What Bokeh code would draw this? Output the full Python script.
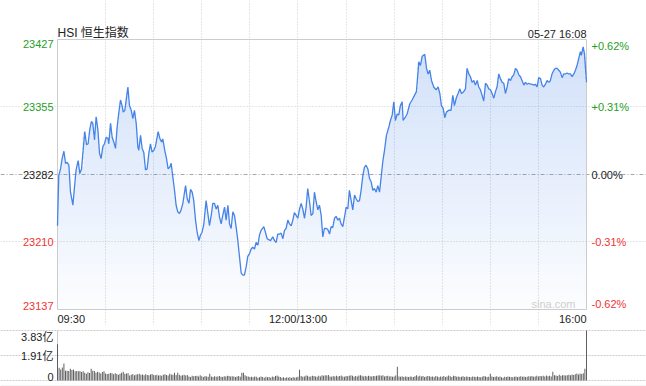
import numpy as np
from bokeh.plotting import figure
from bokeh.models import Range1d, FixedTicker, Span, LabelSet, Label, ColumnDataSource, Grid
from bokeh.layouts import column
from bokeh.core.properties import value
from bokeh.embed import file_html
from bokeh.resources import INLINE

# ---------------- data ----------------
title_text = "HSI 恒生指数"
stamp_text = "05-27 16:08"
watermark = "sina.com"
prev_close = 23282
price_ticks = [23427, 23355, 23282, 23210, 23137]
price_tick_labels = ["23427", "23355", "23282", "23210", "23137"]
pct_tick_labels = ["+0.62%", "+0.31%", "0.00%", "-0.31%", "-0.62%"]
tick_colors = ["#1fa01f", "#1fa01f", "#222222", "#f03434", "#f03434"]
time_ticks = [0, 150, 330]
time_labels = ["09:30", "12:00/13:00", "16:00"]
grid_minutes = [30, 60, 90, 120, 150, 180, 210, 240, 270, 300]
vol_ticks = [3.83, 1.91, 0]
vol_labels = ["3.83亿", "1.91亿", "0"]

minutes = [0, 0.8, 1.9, 2.9, 4.0, 5.0, 6.0, 7.1, 8.1, 9.6, 10.8, 11.6, 12.9, 13.9, 15.0, 17.0, 18.1, 19.1,
           20.2, 21.2, 22.0, 23.1, 24.1, 25.2, 26.2, 27.2, 28.3, 29.3, 30.4, 31.4, 32.0, 33.1, 34.1, 35.1,
           36.2, 37.2, 38.3, 39.3, 40.3, 41.0, 42.0, 43.0, 43.9, 44.9, 46.0, 47.0, 48.0, 49.1, 50.1, 50.7,
           51.8, 52.8, 53.8, 54.9, 55.9, 57.0, 58.0, 59.0, 60.1, 61.1, 62.8, 63.8, 64.9, 65.7, 66.9, 68.0,
           69.0, 70.1, 70.9, 71.9, 73.0, 74.0, 75.0, 76.1, 77.1, 78.2,
           79.9, 80.9, 82.0, 83.0, 84.0, 85.0, 86.1, 87.1, 88.2, 89.2, 90.2, 91.3, 92.7, 93.8, 94.8, 95.9,
           96.9, 97.9, 99.0, 100.0, 101.1, 102.1, 103.1, 104.2, 105.2, 106.3, 107.3, 108.3, 109.4, 110.4,
           111.4, 112.5, 113.5, 114.6, 115.6, 116.6, 117.7, 118.7, 119.8, 120.8, 121.8, 122.9, 123.9, 125.0,
           126.0, 127.0, 128.7, 129.7, 130.8, 131.8, 132.9, 134.3, 135.4, 136.4, 137.4, 138.5, 139.5, 140.6,
           141.6, 142.6, 143.7, 144.7, 145.8, 146.8, 147.8, 148.9, 149.9, 151.0, 152.0, 153.0, 154.1, 155.1,
           156.1, 157.2, 158.2, 159.3, 160.3, 161.3, 162.4, 163.4, 164.5, 165.5, 166.5, 167.6, 168.6, 169.7,
           170.7, 171.7, 172.8, 173.8, 174.9, 175.9, 176.9, 178.0, 179.0, 180.1, 181.1, 182.1, 183.2, 184.2,
           185.3, 186.3, 187.3, 188.4, 189.4, 190.5, 191.5, 192.5, 193.6, 194.6, 195.7, 196.7, 197.7, 198.8,
           199.8, 200.9, 201.9, 203.0, 204.0,
           205.2, 206.7, 207.7, 208.8, 209.8, 210.8, 211.9, 212.9, 213.9, 215.0, 215.6, 217.1, 218.1, 219.8,
           221.2, 222.7, 223.9, 225.4, 226.4, 227.5, 229.1, 230.2, 231.2, 232.2, 233.3, 234.7, 236.2, 237.4,
           238.5, 239.5, 240.6, 241.6, 242.6, 244.1, 245.5, 246.6, 247.6, 248.9, 249.9, 251.0, 252.0, 253.4,
           254.5, 255.5, 256.6, 257.6, 258.6, 259.7, 260.7, 261.8, 262.8, 263.8, 264.9, 265.9, 267.0, 268.0,
           269.0, 270.1, 271.1, 272.2, 273.2, 274.2, 275.3, 276.3, 277.4, 278.4, 279.4, 280.5, 281.5, 282.6,
           283.6, 284.6, 285.7, 286.7, 287.8, 288.8, 289.8, 290.9, 291.9, 293.0, 294.0, 295.0, 296.1, 297.1,
           298.1, 299.2, 300.2, 301.3, 302.3, 303.3, 304.4, 305.4, 306.5, 307.5, 308.5, 309.6, 310.6, 311.7,
           312.7, 313.7, 314.8, 315.8, 316.9, 317.9, 318.9, 320.0, 321.0, 322.1, 323.1, 324.1, 325.2, 326.2,
           326.8, 327.9, 328.7, 330.0]

prices = [23227, 23281, 23288, 23299, 23307, 23294, 23295, 23292, 23263, 23249, 23272, 23287, 23297, 23283,
          23288, 23328, 23314, 23315, 23331, 23339, 23337, 23319, 23344, 23330, 23305, 23299, 23312, 23315,
          23322, 23321, 23315, 23337, 23322, 23317, 23310, 23333, 23349, 23362, 23356, 23349, 23351, 23364,
          23376, 23356, 23351, 23342, 23351, 23337, 23312, 23308, 23324, 23310, 23306, 23287, 23288, 23305,
          23315, 23306, 23308, 23312, 23328, 23321, 23317, 23320, 23308, 23299, 23288, 23290, 23294, 23280,
          23265, 23249, 23242, 23240, 23244, 23251,
          23270, 23256, 23251, 23266, 23263, 23254, 23233, 23220, 23211, 23217, 23220, 23229, 23254, 23240,
          23227, 23238, 23251, 23251, 23245, 23249, 23236, 23229, 23238, 23247, 23233, 23249, 23229, 23224,
          23242, 23238, 23226, 23211, 23194, 23176, 23174, 23174, 23183, 23194, 23197, 23202, 23204, 23202,
          23209, 23206, 23217, 23222, 23226, 23220, 23213, 23212, 23211, 23215, 23211, 23209, 23218, 23218,
          23219, 23213, 23222, 23224, 23233, 23229, 23227, 23233, 23241, 23238, 23235, 23245, 23251, 23245,
          23235, 23247, 23267, 23253, 23238, 23240, 23263, 23253, 23244, 23249, 23238, 23215, 23224, 23224,
          23223, 23218, 23226, 23225, 23235, 23237, 23233, 23235, 23229, 23226, 23236, 23247, 23245, 23265,
          23254, 23244, 23260, 23256, 23253, 23254, 23265, 23281, 23290, 23292, 23288, 23278, 23274, 23265,
          23267, 23263, 23270, 23263, 23279, 23297, 23308,
          23324, 23333, 23340, 23346, 23360, 23340, 23347, 23346, 23356, 23360, 23340, 23344, 23347, 23358,
          23362, 23367, 23371, 23403, 23399, 23409, 23411, 23396, 23390, 23394, 23383, 23376, 23373, 23376,
          23369, 23356, 23353, 23343, 23349, 23351, 23351, 23367, 23356, 23365, 23369, 23374, 23369, 23371,
          23374, 23396, 23390, 23387, 23381, 23383, 23378, 23383, 23376, 23373, 23367, 23361, 23380, 23378,
          23374, 23373, 23369, 23364, 23371, 23376, 23390, 23385, 23381, 23380, 23369, 23376, 23385, 23383,
          23387, 23389, 23396, 23394, 23389, 23387, 23383, 23378, 23381, 23379, 23380, 23379, 23379, 23378,
          23379, 23376, 23386, 23385, 23378, 23376, 23379, 23383, 23381, 23383, 23390, 23394, 23396, 23396,
          23394, 23392, 23386, 23390, 23390, 23391, 23390, 23390, 23387, 23390, 23394, 23399, 23407, 23414,
          23410, 23419, 23412, 23381]

volumes = [2.77, 0.98, 0.85, 1.00, 1.31, 0.75, 0.75, 0.72, 0.90, 0.80,
           0.85, 0.70, 0.72, 0.70, 0.72, 0.66, 0.70, 0.60, 0.52, 0.64,
           0.58, 0.90, 0.75, 0.72, 0.59, 0.67, 0.62, 0.54, 0.66, 0.70,
           0.54, 0.50, 0.52, 0.58, 0.55, 0.48, 0.56, 0.50, 0.44, 0.52,
           0.60, 0.67, 0.52, 0.54, 0.56, 0.38, 0.44, 0.50, 0.40, 0.46,
           0.48, 0.51, 0.44, 0.46, 0.40, 0.48, 0.42, 0.40, 0.46, 0.50,
           0.42, 0.40, 0.44, 0.38, 0.40, 0.36, 0.44, 0.48, 0.42, 0.38,
           0.52, 0.46, 0.44, 0.59, 0.42, 0.59, 0.44, 0.36, 0.40, 0.44,
           0.38, 0.42, 0.30, 0.26, 0.36, 0.32, 0.34, 0.36, 0.30, 0.40,
           0.32, 0.26, 0.34, 0.30, 0.28, 0.51, 0.30, 0.26, 0.32, 0.28,
           0.30, 0.34, 0.28, 0.26, 0.32, 0.30, 0.36, 0.34, 0.30, 0.32,
           0.30, 0.26, 0.30, 0.34, 0.28, 0.59, 0.59, 0.40, 0.32, 0.30,
           0.26, 0.28, 0.24, 0.30, 0.28, 0.22, 0.24, 0.30, 0.26, 0.22,
           0.28, 0.24, 0.26, 0.22, 0.30, 0.26, 0.34, 0.38, 0.30, 0.26,
           0.22, 0.24, 0.20, 0.24, 0.22, 0.24, 0.20, 0.26, 0.22, 0.24,
           0.28, 0.82, 0.34, 0.28, 0.30, 0.38, 0.36, 0.28, 0.30, 0.36,
           0.34, 0.30, 0.28, 0.36, 0.30, 0.41, 0.36, 0.41, 0.38, 0.42,
           0.30, 0.28, 0.34, 0.30, 0.36, 0.30, 0.34, 0.38, 0.30, 0.28,
           0.34, 0.32, 0.36, 0.41, 0.36, 0.28, 0.34, 0.30, 0.38, 0.41,
           0.36, 0.30, 0.34, 0.30, 0.36, 0.32, 0.30, 0.34, 0.32, 0.36,
           0.38, 0.40, 0.36, 0.41, 0.30, 0.34, 0.36, 0.30, 0.33, 0.28,
           0.30, 0.38, 1.05, 0.30, 0.28, 0.32, 0.26, 0.30, 0.28, 0.26,
           0.30, 0.28, 0.26, 0.32, 0.41, 0.30, 0.36, 0.30, 0.34, 0.26,
           0.30, 0.34, 0.32, 0.28, 0.30, 0.26, 0.34, 0.30, 0.24, 0.30,
           0.28, 0.34, 0.26, 0.30, 0.38, 0.32, 0.26, 0.36, 0.34, 0.28,
           0.30, 0.26, 0.28, 0.32, 0.26, 0.30, 0.28, 0.26, 0.24, 0.30,
           0.28, 0.26, 0.30, 0.26, 0.24, 0.28, 0.34, 0.30, 0.26, 0.28,
           0.51, 0.30, 0.26, 0.28, 0.33, 0.26, 0.30, 0.24, 0.22, 0.28,
           0.26, 0.30, 0.28, 0.26, 0.24, 0.28, 0.30, 0.26, 0.28, 0.32,
           0.28, 0.30, 0.26, 0.28, 0.32, 0.30, 0.34, 0.28, 0.30, 0.36,
           0.30, 0.34, 0.33, 0.36, 0.30, 0.38, 0.32, 0.36, 0.30, 0.67,
           0.41, 0.38, 0.35, 0.44, 0.36, 0.41, 0.40, 0.38, 0.40, 0.44,
           0.40, 0.46, 0.42, 0.48, 0.54, 0.46, 0.54, 0.50, 0.56, 0.90,
           3.83]
vol_minutes = list(range(len(volumes)))

# ---------------- layout (pixels) ----------------
FIG_W = 646
H1, H2 = 325, 61
PX_L, PX_R = 57, 586          # plot area left/right in page pixels
PX_T1, PX_B1 = 39, 309        # price area top/bottom (within figure 1)
PX_T2, PX_B2 = 5, 55          # volume area top/bottom (within figure 2)
PX_FOOT = 60.5                # faint bottom rule (within figure 2)

FONT_NAME = "Liberation Sans, Noto Sans CJK SC"
FONT = value(FONT_NAME)
LINE_BLUE = "#4583e8"
GRID = "#cccccc"
TEXT = "#222222"

x_lo, x_hi = time_ticks[0], time_ticks[-1]
y_lo, y_hi = price_ticks[-1], price_ticks[0]
v_lo, v_hi = vol_ticks[-1], vol_ticks[0]

kx = (x_hi - x_lo) / (PX_R - PX_L)
x_range = Range1d(x_lo - PX_L * kx, x_hi + (FIG_W - PX_R) * kx)
ky1 = (y_hi - y_lo) / (PX_B1 - PX_T1)
y_range1 = Range1d(y_lo - (H1 - PX_B1) * ky1, y_hi + PX_T1 * ky1)
ky2 = (v_hi - v_lo) / (PX_B2 - PX_T2)
y_range2 = Range1d(v_lo - (H2 - PX_B2) * ky2, v_hi + PX_T2 * ky2)


def bare_figure(h, yr):
    f = figure(width=FIG_W, height=h, x_range=x_range, y_range=yr, output_backend="svg",
               toolbar_location=None, min_border=0)
    f.xaxis.visible = False
    f.yaxis.visible = False
    f.outline_line_color = None
    f.background_fill_color = "white"
    f.border_fill_color = "white"
    return f


# ---------------- price panel ----------------
p1 = bare_figure(H1, y_range1)
p1.xgrid.ticker = FixedTicker(ticks=grid_minutes)
p1.xgrid.bounds = (y_lo, y_hi)
p1.xgrid.grid_line_color = GRID
p1.xgrid.grid_line_dash = "1 2"
p1.ygrid.ticker = FixedTicker(ticks=[price_ticks[1], price_ticks[3]])
p1.ygrid.bounds = (x_lo, x_hi)
p1.ygrid.grid_line_color = GRID
p1.ygrid.grid_line_dash = "1 2"
p1.add_layout(Grid(dimension=1, ticker=FixedTicker(ticks=[prev_close]), bounds=(x_lo, x_hi),
                   grid_line_color="#a8a8a8", grid_line_dash="4 2 1 2"))

# gradient fill under the line (banded)
t_arr = np.array(minutes, dtype=float)
p_arr = np.array(prices, dtype=float)
n_bands = 54
step = (y_hi - y_lo) / n_bands
for k in range(n_bands):
    lo = y_lo + k * step
    hi = lo + step
    top = np.clip(p_arr, lo, hi)
    frac = ((lo + hi) / 2 - y_lo) / (y_hi - y_lo)
    p1.varea(x=t_arr, y1=np.full_like(top, lo), y2=top, fill_color=LINE_BLUE,
             fill_alpha=0.015 + 0.24 * frac)

p1.quad(left=[x_lo], right=[x_hi], bottom=[y_lo], top=[y_hi], fill_color=None,
        line_color=GRID, line_width=1)
p1.line(t_arr, p_arr, line_color=LINE_BLUE, line_width=1.3)

bases = ["top", "middle", "middle", "middle", "bottom"]
left_src = ColumnDataSource(dict(x=[x_lo] * 5, y=price_ticks, text=price_tick_labels,
                                 color=tick_colors, base=bases))
right_src = ColumnDataSource(dict(x=[x_hi] * 5, y=price_ticks, text=pct_tick_labels,
                                  color=tick_colors, base=bases))
p1.add_layout(LabelSet(x="x", y="y", text="text", source=left_src, x_offset=-4,
                       text_align="right", text_baseline="base", text_color="color",
                       text_font=FONT, text_font_size="11px"))
p1.add_layout(LabelSet(x="x", y="y", text="text", source=right_src, x_offset=5,
                       text_align="left", text_baseline="base", text_color="color",
                       text_font=FONT, text_font_size="11px"))

time_src = ColumnDataSource(dict(x=time_ticks, y=[y_lo] * 3, text=time_labels,
                                 align=["left", "center", "right"]))
p1.add_layout(LabelSet(x="x", y="y", text="text", source=time_src, y_offset=-3,
                       text_align="align", text_baseline="top", text_color=TEXT,
                       text_font=FONT, text_font_size="11px"))

p1.add_layout(Label(x=x_lo, y=y_hi, text=title_text, text_align="left", text_baseline="bottom",
                    text_color=TEXT, text_font=FONT_NAME, text_font_size="12px"))
p1.add_layout(Label(x=x_hi, y=y_hi, text=stamp_text, text_align="right", text_baseline="bottom",
                    text_color=TEXT, text_font=FONT_NAME, text_font_size="11px"))
p1.add_layout(Label(x=x_hi, y=y_lo, text=watermark, x_offset=-11, text_align="right",
                    text_baseline="bottom", text_color="#cfcfcf", text_font=FONT_NAME,
                    text_font_size="11px"))

# ---------------- volume panel ----------------
p2 = bare_figure(H2, y_range2)
p2.xgrid.visible = False
p2.ygrid.ticker = FixedTicker(ticks=vol_ticks)
p2.ygrid.bounds = (x_lo, x_hi)
p2.ygrid.grid_line_color = GRID
p2.ygrid.grid_line_dash = "2 1"
p2.segment(x0=[x_lo], y0=[v_lo], x1=[x_lo], y1=[v_hi], line_color=GRID, line_width=1)
p2.vbar(x=vol_minutes, top=volumes, width=0.6, bottom=v_lo, fill_color="#5a5a5a", line_color=None)
p2.add_layout(Span(location=v_lo - (PX_FOOT - PX_B2) * ky2, dimension="width",
                   line_color="#ebebeb", line_width=1))

vol_src = ColumnDataSource(dict(x=[x_lo] * 3, y=vol_ticks, text=vol_labels,
                                base=["top", "middle", "bottom"]))
p2.add_layout(LabelSet(x="x", y="y", text="text", source=vol_src, x_offset=-4,
                       text_align="right", text_baseline="base", text_color=TEXT,
                       text_font=FONT, text_font_size="11px"))

layout = column(p1, p2, spacing=0)
open("out.html", "w").write(file_html(layout, INLINE))
